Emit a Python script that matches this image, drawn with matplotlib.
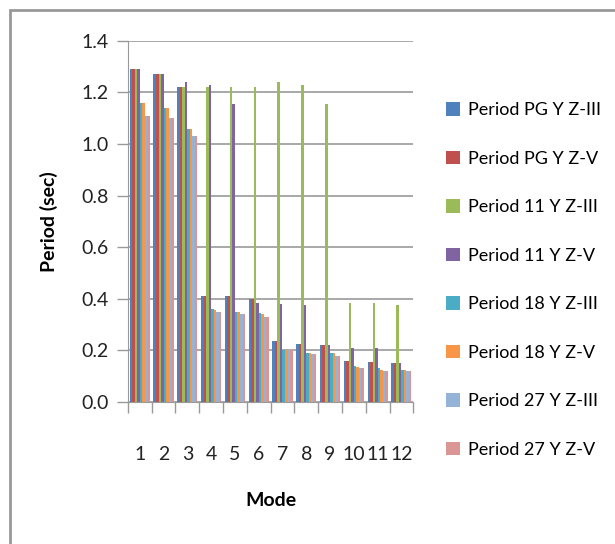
import matplotlib
matplotlib.use("Agg")
import matplotlib.pyplot as plt
import numpy as np
from matplotlib.patches import Rectangle

plt.rcParams['font.family'] = ['Lato', 'DejaVu Sans']

modes = [str(i) for i in range(1, 13)]
series_names = ["Period PG Y Z-III", "Period PG Y Z-V", "Period 11 Y Z-III", "Period 11 Y Z-V",
                "Period 18 Y Z-III", "Period 18 Y Z-V", "Period 27 Y Z-III", "Period 27 Y Z-V"]
pg_z3 = [1.29, 1.27, 1.22, 0.41, 0.41, 0.40, 0.235, 0.225, 0.22, 0.16, 0.155, 0.15]
pg_z5 = [1.29, 1.27, 1.22, 0.41, 0.41, 0.40, 0.235, 0.225, 0.22, 0.16, 0.155, 0.15]
y11_z3 = [1.29, 1.27, 1.22, 1.22, 1.22, 1.22, 1.24, 1.23, 1.155, 0.385, 0.385, 0.375]
y11_z5 = [1.29, 1.27, 1.24, 1.23, 1.155, 0.385, 0.38, 0.375, 0.22, 0.21, 0.21, 0.15]
y18_z3 = [1.16, 1.14, 1.06, 0.36, 0.35, 0.345, 0.20, 0.19, 0.19, 0.14, 0.13, 0.125]
y18_z5 = [1.16, 1.14, 1.06, 0.355, 0.35, 0.34, 0.20, 0.19, 0.19, 0.135, 0.125, 0.125]
y27_z3 = [1.11, 1.10, 1.03, 0.35, 0.34, 0.33, 0.20, 0.185, 0.18, 0.13, 0.12, 0.12]
y27_z5 = [1.11, 1.10, 1.03, 0.35, 0.34, 0.33, 0.20, 0.185, 0.18, 0.13, 0.12, 0.12]
series = [pg_z3, pg_z5, y11_z3, y11_z5, y18_z3, y18_z5, y27_z3, y27_z5]
colors = ["#4F81BD", "#C0504D", "#9BBB59", "#8064A2", "#4BACC6", "#F79646", "#95B3D7", "#D99694"]

fig = plt.figure(figsize=(6.15, 5.44), dpi=100)
ax = fig.add_axes([0.208, 0.261, 0.464, 0.664])

x = np.arange(1, 13)
n = len(series)
w = 0.85 / n
for i, (vals, name, c) in enumerate(zip(series, series_names, colors)):
    ax.bar(x - 0.425 + w * (i + 0.5), vals, width=w, color=c, label=name, zorder=3)

ax.set_xlim(0.5, 12.5)
ax.set_ylim(0, 1.4)
ax.set_yticks(np.arange(0, 1.41, 0.2))
ax.set_yticklabels([f"{v:.1f}" for v in np.arange(0, 1.41, 0.2)], fontsize=14, color="#222222")
ax.set_xticks(x)
ax.set_xticklabels(modes, fontsize=14, color="#222222")
ax.set_xticks(np.arange(0.5, 12.6, 1), minor=True)
ax.tick_params(axis="x", which="major", length=0, pad=32)
ax.tick_params(axis="x", which="minor", length=8, color="#999999", width=1)
ax.tick_params(axis="y", length=8, color="#999999", width=1, pad=6)
ax.yaxis.grid(True, color="#999999", linewidth=1.2, zorder=0)
for s in ["top", "right"]:
    ax.spines[s].set_visible(False)
ax.spines["left"].set_color("#999999")
ax.spines["bottom"].set_color("#999999")

ax.set_ylabel("Period (sec)", fontsize=14, fontweight="bold", va="center")
ax.yaxis.set_label_coords(-0.275, 0.5)
ax.set_xlabel("Mode", fontsize=14, fontweight="bold", va="center")
ax.xaxis.set_label_coords(0.5, -0.272)

ax.legend(loc="upper left", bbox_to_anchor=(1.09, 0.85), frameon=False, fontsize=13,
          handlelength=0.75, handleheight=0.75, handletextpad=0.45, labelspacing=1.8,
          borderaxespad=0)

fig.patches.append(Rectangle((10 / 615, -0.1), 1.1, 1 - 10 / 544 + 0.1, transform=fig.transFigure,
                             fill=False, edgecolor="#999999", linewidth=2))

fig.savefig("out.png", dpi=100)
